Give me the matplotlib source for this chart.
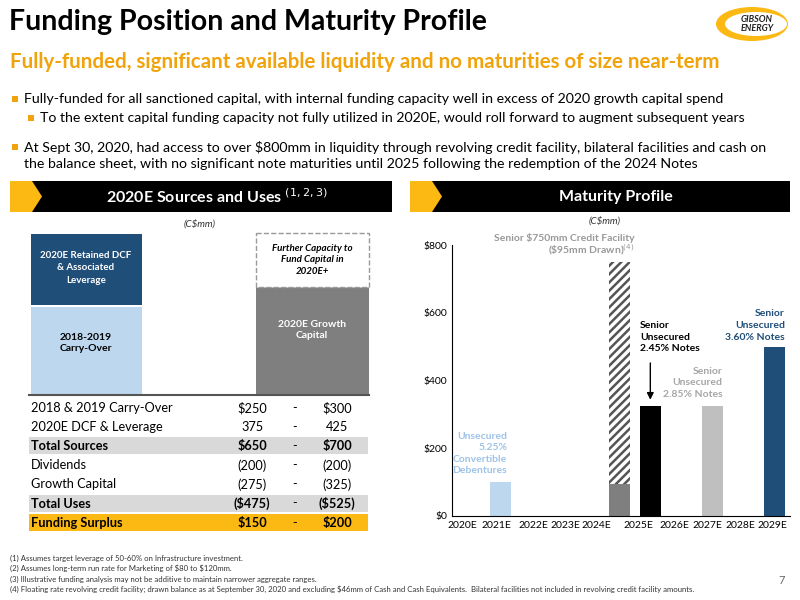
import matplotlib.pyplot as plt
from matplotlib.patches import Rectangle, Polygon, Ellipse

plt.rcParams['font.family'] = ['Lato', 'DejaVu Sans']
plt.rcParams['hatch.linewidth'] = 1.8

# maturity data (C$mm)
years = ['2020E', '2021E', '2022E', '2023E', '2024E', '2025E', '2026E', '2027E', '2028E', '2029E']
debentures_2021 = 100
facility_total = 750
facility_drawn = 95
notes_245 = 325
notes_285 = 325
notes_360 = 500

# sources & uses table
rows = ['2018 & 2019 Carry-Over', '2020E DCF & Leverage', 'Total Sources', 'Dividends',
        'Growth Capital', 'Total Uses', 'Funding Surplus']
low = ['$250', '375', '$650', '(200)', '(275)', '($475)', '$150']
high = ['$300', '425', '$700', '(200)', '(325)', '($525)', '$200']

ORANGE = '#F0A30A'
YELLOW = '#FDB913'
NAVY = '#1F4E79'
LBLUE = '#BDD7EE'

fig = plt.figure(figsize=(8, 6), dpi=100)
bg = fig.add_axes([0, 0, 1, 1])
bg.set_xlim(0, 800)
bg.set_ylim(600, 0)
bg.axis('off')

# title area
bg.text(9, 22, 'Funding Position and Maturity Profile', fontsize=20.5, fontweight='bold', va='center')
bg.add_patch(Ellipse((752, 24), 72, 34, facecolor=YELLOW, edgecolor='none'))
bg.add_patch(Ellipse((756, 24), 62, 24, facecolor='white', edgecolor='none'))
bg.text(757, 24, 'GIBSON\nENERGY', fontsize=6.5, fontweight='bold', style='italic', ha='center',
        va='center', color='#222222', linespacing=0.9)
bg.text(10, 62, 'Fully-funded, significant available liquidity and no maturities of size near-term',
        fontsize=14.8, fontweight='bold', color=ORANGE, va='center')

bullets = [
    (12, 24, 99, 'Fully-funded for all sanctioned capital, with internal funding capacity well in excess of 2020 growth capital spend'),
    (28, 40, 118, 'To the extent capital funding capacity not fully utilized in 2020E, would roll forward to augment subsequent years'),
    (12, 24, 147, 'At Sept 30, 2020, had access to over $800mm in liquidity through revolving credit facility, bilateral facilities and cash on'),
]
for bx, tx, y, s in bullets:
    bg.add_patch(Rectangle((bx, y - 3), 6, 6, facecolor=ORANGE))
    bg.text(tx, y, s, fontsize=10.2, va='center')
bg.text(24, 164, 'the balance sheet, with no significant note maturities until 2025 following the redemption of the 2024 Notes',
        fontsize=10.2, va='center')

# section headers
for x0, x1, title in [(10, 392, '2020E Sources and Uses $^{(1,2,3)}$'), (410, 790, 'Maturity Profile')]:
    bg.add_patch(Rectangle((x0, 181), x1 - x0, 31, facecolor='black'))
    bg.add_patch(Polygon([(x0, 181), (x0 + 22, 181), (x0 + 32, 196.5), (x0 + 22, 212), (x0, 212)],
                         facecolor=YELLOW))
    bg.text((x0 + 32 + x1) / 2, 196.5, title, color='white', fontsize=11.5, fontweight='bold',
            ha='center', va='center')
bg.text(200, 224, '(C\\$mm)', fontsize=7, style='italic', ha='center', va='center', color='#333333')
bg.text(605, 221, '(C\\$mm)', fontsize=7, style='italic', ha='center', va='center', color='#333333')

# sources and uses blocks
bg.add_patch(Rectangle((31, 307), 111, 88, facecolor=LBLUE))
bg.add_patch(Rectangle((31, 234), 111, 71, facecolor=NAVY))
bg.add_patch(Rectangle((256, 287), 113, 108, facecolor='#7F7F7F'))
bg.add_patch(Rectangle((256, 233), 113, 54, facecolor='white', edgecolor='#999999', linestyle='--', lw=1))
bg.plot([29, 369], [395, 395], color='#555555', lw=1.5)
bg.text(86, 268, '2020E Retained DCF\n& Associated\nLeverage', color='white', fontsize=7, fontweight='bold',
        ha='center', va='center', linespacing=1.5)
bg.text(86, 343, '2018-2019\nCarry-Over', fontsize=7.5, fontweight='bold', ha='center', va='center')
bg.text(312, 330, '2020E Growth\nCapital', color='white', fontsize=7.5, fontweight='bold', ha='center',
        va='center', linespacing=1.4)
bg.text(312, 260, 'Further Capacity to\nFund Capital in\n2020E+', fontsize=7, fontweight='bold',
        style='italic', ha='center', va='center', linespacing=1.4)

for i, (r, lo, hi) in enumerate(zip(rows, low, high)):
    y = 408 + i * 19.1
    bold = r.startswith('Total') or r.startswith('Funding')
    if r.startswith('Total'):
        bg.add_patch(Rectangle((29, y - 9), 339, 17, facecolor='#D9D9D9'))
    if r.startswith('Funding'):
        bg.add_patch(Rectangle((29, y - 9), 339, 17, facecolor=YELLOW))
    fw = 'bold' if bold else 'normal'
    bg.text(31, y, r, fontsize=9.2, fontweight=fw, va='center')
    bg.text(252, y, lo.replace('$', '\\$'), fontsize=9.2, fontweight=fw, va='center', ha='center')
    bg.text(295, y, '-', fontsize=9.2, va='center', ha='center')
    bg.text(337, y, hi.replace('$', '\\$'), fontsize=9.2, fontweight=fw, va='center', ha='center')

# footnotes
notes = ['(1) Assumes target leverage of 50-60% on Infrastructure investment.',
         '(2) Assumes long-term run rate for Marketing of \\$80 to \\$120mm.',
         '(3) Illustrative funding analysis may not be additive to maintain narrower aggregate ranges.',
         '(4) Floating rate revolving credit facility; drawn balance as at September 30, 2020 and excluding \\$46mm of Cash and Cash Equivalents.  Bilateral facilities not included in revolving credit facility amounts.']
for i, s in enumerate(notes):
    bg.text(10, 558 + i * 10.5, s, fontsize=5.6, va='center', color='#333333')
bg.text(785, 580, '7', fontsize=8, color='#666666', ha='right', va='center')

# maturity chart
ax = fig.add_axes([452 / 800, 1 - 516 / 600, (790 - 452) / 800, (516 - 245) / 600])
pos = [0.3, 1.3, 2.35, 3.3, 4.2, 5.4, 6.45, 7.4, 8.35, 9.3]
ax.bar(1.4, debentures_2021, width=0.6, color=LBLUE)
ax.bar(4.85, facility_total, width=0.6, facecolor='white', edgecolor='#555555', hatch='////', lw=0)
ax.bar(4.85, facility_drawn, width=0.6, color='#7F7F7F')
ax.bar(5.75, notes_245, width=0.6, color='black')
ax.bar(7.55, notes_285, width=0.6, color='#BFBFBF')
ax.bar(9.35, notes_360, width=0.6, color=NAVY)
ax.set_xlim(0, 9.8)
ax.set_ylim(0, 800)
ax.set_xticks(pos)
ax.set_xticklabels(years, fontsize=7.5)
ax.set_yticks([0, 200, 400, 600, 800])
ax.set_yticklabels(['\\$0', '\\$200', '\\$400', '\\$600', '\\$800'], fontsize=7.5)
ax.tick_params(length=0)
for s in ['top', 'right']:
    ax.spines[s].set_visible(False)

ax.text(1.6, 120, 'Unsecured\n5.25%\nConvertible\nDebentures', color='#9DC3E6', fontsize=7.5,
        fontweight='bold', ha='right', va='bottom', linespacing=1.35)
ax.text(5.3, 805, 'Senior \\$750mm Credit Facility', color='#999999',
        fontsize=7.5, fontweight='bold', ha='right', va='bottom')
ax.text(5.3, 765, '(\\$95mm Drawn)$^{(4)}$', color='#999999',
        fontsize=7.5, fontweight='bold', ha='right', va='bottom')
ax.text(5.45, 480, 'Senior\nUnsecured\n2.45% Notes', fontsize=7.5, fontweight='bold', ha='left',
        va='bottom', linespacing=1.4)
ax.annotate('', xy=(5.75, 335), xytext=(5.75, 460),
            arrowprops=dict(arrowstyle='-|>', color='black', lw=1))
ax.text(7.85, 345, 'Senior\nUnsecured\n2.85% Notes', color='#A6A6A6', fontsize=7.5, fontweight='bold',
        ha='right', va='bottom', linespacing=1.4)
ax.text(9.65, 515, 'Senior\nUnsecured\n3.60% Notes', color=NAVY, fontsize=7.5, fontweight='bold',
        ha='right', va='bottom', linespacing=1.4)

fig.savefig('out.png', dpi=100)
